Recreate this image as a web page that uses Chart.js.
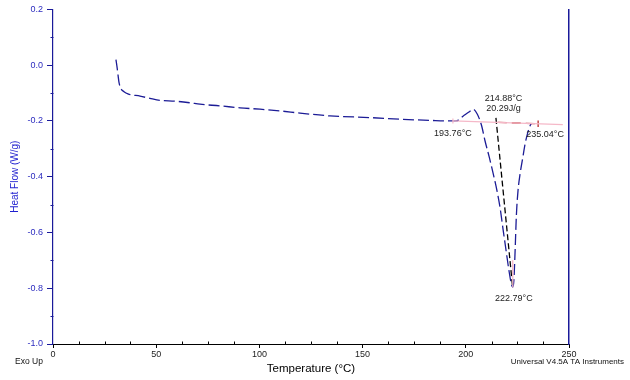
<!DOCTYPE html>
<html>
<head>
<meta charset="utf-8">
<script src="https://cdn.jsdelivr.net/npm/chart.js@4.4.0/dist/chart.umd.min.js"></script>
<style>
html,body{margin:0;padding:0;background:#fff;}
#wrap{width:630px;height:380px;position:relative;}
</style>
</head>
<body>
<div id="wrap"><canvas id="c" width="630" height="380"></canvas></div>
<script>
// ---- data ----
const temps = [30.5,31.0,31.5,32.0,32.9,34.4,36.3,42.2,47.0,51.8,59.1,66.4,71.2,80.9,90.6,100.3,110.0,119.7,134.2,153.6,168.1,182.7,192.3,195.3,198.8,201.5,203.6,205.6,207.7,209.3,211.4,213.3,215.1,216.6,218.0,219.5,220.9,222.1,222.7,223.3,223.9,224.5,225.3,226.3,227.6,228.7,229.8,231.1,231.8];
const heatFlow = [0.020,-0.005,-0.035,-0.063,-0.084,-0.095,-0.103,-0.111,-0.119,-0.126,-0.129,-0.135,-0.140,-0.146,-0.153,-0.158,-0.164,-0.172,-0.182,-0.188,-0.194,-0.198,-0.200,-0.200,-0.182,-0.168,-0.158,-0.176,-0.218,-0.271,-0.331,-0.390,-0.450,-0.511,-0.586,-0.664,-0.736,-0.786,-0.796,-0.771,-0.664,-0.539,-0.450,-0.390,-0.332,-0.283,-0.248,-0.218,-0.209];

const onsetLineT = [214.6, 222.6];
const onsetLineY = [-0.189, -0.790];
const baselineT = [193.76, 247.0];
const baselineY = [-0.200, -0.213];
const integT = [215.5, 235.04];
const integY = [-0.205, -0.210];
const endTickT = [235.04, 235.04];
const endTickY = [-0.198, -0.222];
const startTickT = [193.76, 193.76];
const startTickY = [-0.191, -0.209];
const peakMarkT = [222.6, 222.79];
const peakMarkY = [-0.70, -0.797];

const xTicks = [0, 50, 100, 150, 200, 250];
const yTicks = [0.2, 0.0, -0.2, -0.4, -0.6, -0.8, -1.0];

// annotation texts with their anchor values
const annotations = [
  {t: 193.76, y: -0.200, lines: ['193.76°C'], dx: 0, dy: 13},
  {t: 235.04, y: -0.210, lines: ['235.04°C'], dx: 7, dy: 11},
  {t: 214.88, y: -0.200, lines: ['214.88°C', '20.29J/g'], dx: 7, dy: -22},
  {t: 222.79, y: -0.796, lines: ['222.79°C'], dx: 1, dy: 11}
];

const pts = (xs, ys) => xs.map((x, i) => ({x: x, y: ys[i]}));

Chart.defaults.font.family = '"Liberation Sans", Arial, sans-serif';

const extras = {
  id: 'extras',
  afterDraw(chart) {
    const ctx = chart.ctx;
    const xs = chart.scales.x, ys = chart.scales.y;
    ctx.save();
    // minor ticks
    ctx.lineWidth = 1;
    ctx.strokeStyle = '#1a1a9a';
    const ax = Math.round(xs.left) + 0.5;
    for (let v = -0.9; v < 0.2; v += 0.2) {
      const py = Math.round(ys.getPixelForValue(v)) + 0.5;
      ctx.beginPath(); ctx.moveTo(ax - 3, py); ctx.lineTo(ax, py); ctx.stroke();
    }
    ctx.strokeStyle = '#000';
    const by = Math.round(ys.bottom) + 0.5;
    for (let v = 12.5; v < 250; v += 12.5) {
      if (Math.abs(v % 50) < 1e-6) continue;
      const px = Math.round(xs.getPixelForValue(v)) + 0.5;
      ctx.beginPath(); ctx.moveTo(px, by); ctx.lineTo(px, by - 3); ctx.stroke();
    }
    // annotation texts
    ctx.fillStyle = '#222';
    ctx.font = '9px "Liberation Sans", Arial, sans-serif';
    ctx.textAlign = 'center';
    ctx.textBaseline = 'middle';
    annotations.forEach(a => {
      const px = xs.getPixelForValue(a.t) + a.dx;
      const py = ys.getPixelForValue(a.y) + a.dy;
      a.lines.forEach((s, i) => ctx.fillText(s, px, py + i * 10));
    });
    // footer texts
    ctx.fillStyle = '#111';
    ctx.font = '8.5px "Liberation Sans", Arial, sans-serif';
    ctx.textAlign = 'left';
    ctx.fillText('Exo Up', 15, 362);
    ctx.font = '8px "Liberation Sans", Arial, sans-serif';
    ctx.textAlign = 'right';
    ctx.fillText('Universal V4.5A TA Instruments', 624, 362);
    ctx.restore();
  }
};

new Chart(document.getElementById('c'), {
  type: 'line',
  data: {
    datasets: [
      {data: pts(baselineT, baselineY), borderColor: '#f5b8c8', borderWidth: 1.2, pointRadius: 0},
      {data: pts(startTickT, startTickY), borderColor: '#f5b8c8', borderWidth: 1.2, pointRadius: 0},
      {data: pts(integT, integY), borderColor: '#b01818', borderWidth: 1.2, borderDash: [9, 5], pointRadius: 0},
      {data: pts(endTickT, endTickY), borderColor: '#b01818', borderWidth: 1.2, pointRadius: 0},
      {data: pts(peakMarkT, peakMarkY), borderColor: '#f5b8c8', borderWidth: 1.2, pointRadius: 0},
      {data: pts(onsetLineT, onsetLineY), borderColor: '#000', borderWidth: 1.3, borderDash: [6, 3], pointRadius: 0},
      {data: pts(temps, heatFlow), borderColor: '#1c1c96', borderWidth: 1.3, borderDash: [11, 4], pointRadius: 0, cubicInterpolationMode: 'monotone'}
    ]
  },
  options: {
    responsive: false,
    animation: false,
    layout: {padding: {left: 0, right: 61, top: 8, bottom: 0}},
    plugins: {legend: {display: false}, tooltip: {enabled: false}},
    scales: {
      x: {
        type: 'linear', min: 0, max: 250,
        afterBuildTicks: s => { s.ticks = xTicks.map(v => ({value: v})); },
        ticks: {font: {size: 9}, color: '#222', padding: 1, maxRotation: 0},
        grid: {drawOnChartArea: false, tickLength: 4, color: '#000'},
        border: {color: '#000', width: 1},
        title: {display: true, text: 'Temperature (°C)', color: '#000', font: {size: 11.5}, padding: {top: 0, bottom: 4}},
        afterFit: s => { s.height = 36; }
      },
      y: {
        type: 'linear', min: -1.0, max: 0.2,
        afterBuildTicks: s => { s.ticks = yTicks.map(v => ({value: v})); },
        ticks: {font: {size: 9}, color: '#2b2bbf', padding: 4, callback: v => (Math.abs(v) < 1e-9 ? 0 : v).toFixed(1)},
        grid: {drawOnChartArea: false, tickLength: 6, color: '#1a1a9a'},
        border: {color: '#1a1a9a', width: 1.2},
        title: {display: true, text: 'Heat Flow (W/g)', color: '#1f1fcf', font: {size: 10}, padding: {top: 9, bottom: 0}},
        afterFit: s => { s.width = 53; }
      },
      y2: {
        type: 'linear', position: 'right', min: 0, max: 1,
        ticks: {display: false},
        grid: {drawOnChartArea: false, drawTicks: false},
        border: {color: '#1a1a9a', width: 1.5},
        afterFit: s => { s.width = 0; }
      }
    }
  },
  plugins: [extras]
});
</script>
</body>
</html>
